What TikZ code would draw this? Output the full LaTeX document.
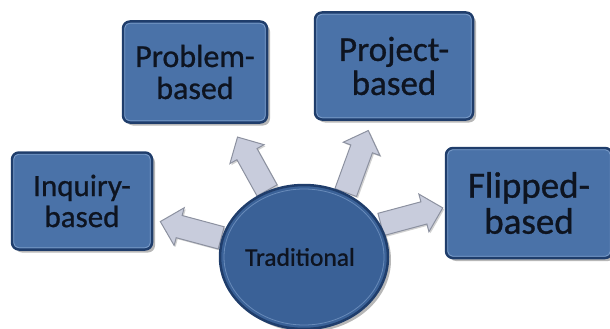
\documentclass[tikz,border=0pt]{standalone}
\usepackage{fontspec}
\setmainfont[FakeBold=0.8,BoldFont=Carlito]{Carlito}
\usetikzlibrary{shapes.geometric,shapes.arrows,shadows,backgrounds}
\definecolor{boxfill}{HTML}{4A72A8}
\definecolor{boxedge}{HTML}{1F3D6B}
\definecolor{boxhi}{HTML}{86A6D0}
\definecolor{circfill}{HTML}{3A6197}
\definecolor{arrfill}{HTML}{C8CCDC}
\definecolor{arredge}{HTML}{8C91A0}
\definecolor{txt}{HTML}{0E1420}
\begin{document}
\begin{tikzpicture}[x=1pt,y=-1pt,
  box/.style={rectangle, rounded corners=7pt, fill=boxfill, draw=boxedge,
    line width=2.5pt, align=center, text=txt, inner sep=0pt,
    drop shadow={shadow xshift=3pt,shadow yshift=-3pt,opacity=0.4,fill=black!70}},
  blockarrow/.style={single arrow, fill=arrfill, draw=arredge, line width=1pt,
    single arrow head extend=8pt, minimum height=#1,
    anchor=tail, inner xsep=0pt, inner ysep=11pt,
    drop shadow={shadow xshift=1.5pt,shadow yshift=-1.5pt,opacity=0.3,fill=black!60}},
  circ/.style={ellipse, fill=circfill, draw=boxedge, line width=2.5pt, text=txt,
    minimum width=168pt, minimum height=144pt, inner sep=0pt,
    drop shadow={shadow xshift=3pt,shadow yshift=-3pt,opacity=0.4,fill=black!70}},
  hilite/.style={draw=boxhi, line width=0.8pt, rounded corners=5pt, opacity=0.8}
]
\useasboundingbox (0,0) rectangle (610,329);

\node[box, minimum width=140pt, minimum height=97pt, font=\fontsize{31}{31}\selectfont]
  (inq) at (82,201) {Inquiry-\\based};
\node[box, minimum width=144pt, minimum height=101pt, font=\fontsize{32}{32}\selectfont]
  (prob) at (195,72) {Problem-\\based};
\node[box, minimum width=158pt, minimum height=107pt, font=\fontsize{35}{34}\selectfont]
  (proj) at (394,66) {Project-\\based};
\node[box, minimum width=166pt, minimum height=110pt, font=\fontsize{37}{36}\selectfont]
  (flip) at (529,203) {Flipped-\\based};

\foreach \n in {inq,prob,proj,flip}{
  \draw[hilite] ([xshift=3pt,yshift=-3pt]\n.north west) rectangle ([xshift=-3pt,yshift=3pt]\n.south east);
}

\node[circ, font=\fontsize{25.5}{26}\selectfont] (trad) at (304,257) {\hspace*{-8pt}Traditional};
\draw[draw=boxhi, line width=0.8pt, opacity=0.6] (trad.center) ellipse [x radius=80pt, y radius=68pt];

\begin{scope}[on background layer]
  \node[blockarrow=63pt, rotate=165] (a1) at (trad.167) {};
  \node[blockarrow=61pt, rotate=119] (a2) at (trad.119) {};
  \node[blockarrow=66pt, rotate=70] (a3) at (trad.57) {};
  \node[blockarrow=64pt, rotate=15] (a4) at (trad.23) {};
\end{scope}
\end{tikzpicture}
\end{document}
